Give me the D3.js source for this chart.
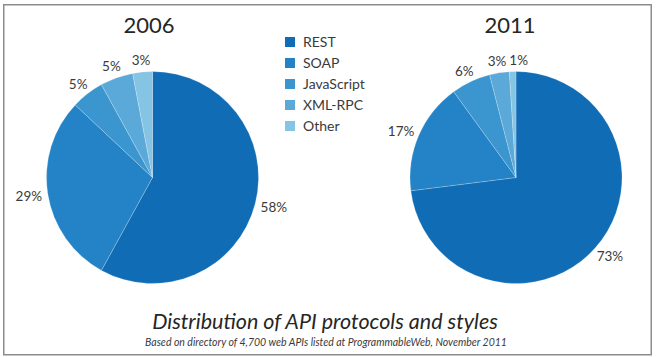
<!DOCTYPE html>
<html>
<head>
<meta charset="utf-8">
<script src="https://cdn.jsdelivr.net/npm/d3@7"></script>
<style>
  html, body { margin: 0; padding: 0; background: #fff; }
  svg { display: block; font-family: Lato, "Open Sans", sans-serif; }
</style>
</head>
<body>
<svg id="chart" width="659" height="357"></svg>
<script>
// ---- data ----
const categories = ["REST", "SOAP", "JavaScript", "XML-RPC", "Other"];
const years = ["2006", "2011"];
const values2006 = [58, 29, 5, 5, 3];
const values2011 = [73, 17, 6, 3, 1];
const palette = ["#106cb4", "#2483c6", "#3b96d0", "#5ba9d8", "#86c4e4"];
const chartTitle = "Distribution of API protocols and styles";
const chartSubtitle = "Based on directory of 4,700 web APIs listed at ProgrammableWeb, November 2011";

// ---- layout ----
const svg = d3.select("#chart");
const color = d3.scaleOrdinal().domain(categories).range(palette);

// frame
svg.append("rect")
  .attr("x", 3.75).attr("y", 4.75).attr("width", 647.5).attr("height", 350)
  .attr("fill", "#fff").attr("stroke", "#8c8c8c").attr("stroke-width", 1.5);

const pies = [
  { year: years[0], values: values2006, cx: 152.5, cy: 177.5, tx: 149 },
  { year: years[1], values: values2011, cx: 516, cy: 177.5, tx: 510 }
];
const R = 106;
const pie = d3.pie().sort(null).value(d => d);
const arc = d3.arc().innerRadius(0).outerRadius(R);

pies.forEach(p => {
  const g = svg.append("g").attr("transform", `translate(${p.cx},${p.cy})`);
  const arcs = pie(p.values);
  g.selectAll("path").data(arcs).join("path")
    .attr("d", arc)
    .attr("fill", (d, i) => color(categories[i]))
    .attr("stroke", "rgba(255,255,255,0.35)")
    .attr("stroke-width", 0.6);

  // year title
  svg.append("text")
    .attr("x", p.tx)
    .attr("y", 33)
    .attr("text-anchor", "middle")
    .attr("font-size", 22)
    .attr("fill", "#262626")
    .text(p.year);

  // labels (outside end, Excel-like)
  const gap = 6, h = 12;
  const boxes = [];
  arcs.forEach((d, i) => {
    const t = g.append("text")
      .attr("text-anchor", "middle")
      .attr("font-size", 13.5)
      .attr("fill", "#3a3a3a")
      .text(p.values[i] + "%");
    const w = t.node().getComputedTextLength();
    const a = (d.startAngle + d.endAngle) / 2;
    const ux = Math.sin(a), uy = -Math.cos(a);
    let x = ux * (R + gap) + ux * w / 2;
    let y = uy * (R + gap) + uy * h / 2;
    // simple collision avoidance with previous label
    const prev = boxes[boxes.length - 1];
    if (prev) {
      const ox = Math.min(prev.x + prev.w / 2, x + w / 2) - Math.max(prev.x - prev.w / 2, x - w / 2);
      const oy = Math.min(prev.y + h / 2, y + h / 2) - Math.max(prev.y - h / 2, y - h / 2);
      if (ox > -3 && oy > 0) x += (ox + 3);
    }
    boxes.push({ x, y, w });
    t.attr("x", x).attr("y", y + 5);
  });
});

// legend
const legend = svg.append("g").attr("transform", "translate(285,37)");
categories.forEach((c, i) => {
  const row = legend.append("g").attr("transform", `translate(0,${i * 21})`);
  row.append("rect").attr("width", 10).attr("height", 10).attr("fill", color(c));
  row.append("text").attr("x", 18).attr("y", 10)
    .attr("font-size", 14).attr("fill", "#3a3a3a").text(c);
});

// titles
svg.append("text")
  .attr("x", 325).attr("y", 329)
  .attr("text-anchor", "middle")
  .attr("font-size", 21.5).attr("font-style", "italic").attr("fill", "#262626")
  .text(chartTitle);
svg.append("text")
  .attr("x", 326).attr("y", 346)
  .attr("text-anchor", "middle")
  .attr("font-size", 10.5).attr("font-style", "italic").attr("fill", "#3a3a3a")
  .text(chartSubtitle);
</script>
</body>
</html>
